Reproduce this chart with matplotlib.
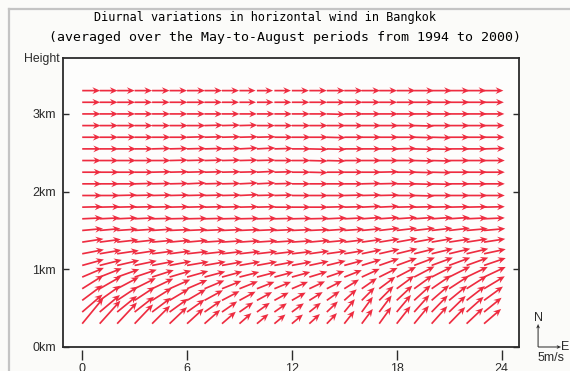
import numpy as np
import matplotlib.pyplot as plt
from matplotlib.lines import Line2D

# local time (hours) and height levels (km) of the wind vectors
hours = list(range(24))
heights = [0.30, 0.45, 0.60, 0.75, 0.90, 1.05, 1.20, 1.35, 1.50, 1.65, 1.80,
           1.95, 2.10, 2.25, 2.40, 2.55, 2.70, 2.85, 3.00, 3.15, 3.30]

# eastward component (m/s), one row per height, bottom to top
u_rows = [
    [4.6, 4.5, 4.3, 4.0, 3.9, 3.8, 3.6, 3.4, 3.0, 2.6, 2.5, 2.4, 2.4, 2.3, 2.2, 2.2, 2.4, 2.6, 3.0, 3.2, 3.4, 3.5, 3.6, 3.7],
    [4.4, 4.4, 4.3, 4.2, 4.1, 4.0, 3.8, 3.6, 3.3, 3.0, 2.8, 2.7, 2.6, 2.5, 2.4, 2.3, 2.4, 2.7, 3.1, 3.3, 3.5, 3.6, 3.7, 3.8],
    [4.4, 4.5, 4.5, 4.4, 4.3, 4.2, 4.1, 4.0, 3.8, 3.5, 3.3, 3.1, 3.0, 2.9, 2.8, 2.7, 2.8, 3.1, 3.4, 3.6, 3.8, 3.9, 4.0, 4.1],
    [4.6, 4.7, 4.7, 4.6, 4.6, 4.5, 4.4, 4.3, 4.2, 4.0, 3.8, 3.6, 3.5, 3.4, 3.3, 3.2, 3.3, 3.5, 3.8, 4.0, 4.2, 4.3, 4.4, 4.5],
    [4.7, 4.8, 4.8, 4.8, 4.7, 4.7, 4.6, 4.5, 4.4, 4.3, 4.2, 4.1, 4.0, 3.9, 3.8, 3.8, 3.9, 4.0, 4.2, 4.4, 4.5, 4.6, 4.6, 4.7],
    [4.7, 4.8, 4.8, 4.8, 4.8, 4.7, 4.7, 4.6, 4.5, 4.5, 4.4, 4.3, 4.3, 4.2, 4.1, 4.1, 4.2, 4.3, 4.4, 4.5, 4.6, 4.6, 4.7, 4.7],
    [4.7, 4.7, 4.7, 4.7, 4.7, 4.6, 4.6, 4.6, 4.5, 4.5, 4.4, 4.4, 4.4, 4.3, 4.3, 4.3, 4.3, 4.4, 4.5, 4.5, 4.6, 4.6, 4.7, 4.7],
    [4.6, 4.6, 4.6, 4.6, 4.6, 4.5, 4.5, 4.5, 4.5, 4.4, 4.4, 4.4, 4.4, 4.4, 4.3, 4.3, 4.4, 4.4, 4.5, 4.5, 4.6, 4.6, 4.6, 4.6],
    [4.5, 4.5, 4.5, 4.5, 4.5, 4.5, 4.4, 4.4, 4.4, 4.4, 4.4, 4.3, 4.3, 4.3, 4.3, 4.3, 4.3, 4.4, 4.4, 4.5, 4.5, 4.5, 4.6, 4.6],
    [4.4, 4.4, 4.4, 4.4, 4.4, 4.4, 4.4, 4.3, 4.3, 4.3, 4.3, 4.3, 4.3, 4.3, 4.3, 4.3, 4.3, 4.3, 4.4, 4.4, 4.5, 4.5, 4.5, 4.5],
    [4.4, 4.4, 4.3, 4.3, 4.3, 4.2, 4.2, 4.2, 4.1, 4.1, 4.1, 4.1, 4.1, 4.1, 4.1, 4.2, 4.2, 4.3, 4.3, 4.4, 4.4, 4.4, 4.5, 4.5],
    [4.3, 4.3, 4.3, 4.2, 4.2, 4.2, 4.2, 4.1, 4.1, 4.1, 4.0, 4.0, 4.1, 4.1, 4.1, 4.2, 4.2, 4.3, 4.3, 4.4, 4.4, 4.4, 4.5, 4.5],
    [4.2, 4.2, 4.2, 4.2, 4.1, 4.1, 4.1, 4.1, 4.0, 4.0, 4.0, 4.0, 4.0, 4.1, 4.1, 4.1, 4.2, 4.2, 4.3, 4.3, 4.4, 4.4, 4.4, 4.5],
    [4.2, 4.2, 4.1, 4.1, 4.1, 4.1, 4.1, 4.0, 4.0, 4.0, 4.0, 4.0, 4.0, 4.0, 4.1, 4.1, 4.2, 4.2, 4.3, 4.3, 4.3, 4.4, 4.4, 4.5],
    [4.1, 4.1, 4.1, 4.1, 4.0, 4.0, 4.0, 4.0, 4.0, 4.0, 4.0, 4.0, 4.0, 4.0, 4.1, 4.1, 4.2, 4.2, 4.2, 4.3, 4.3, 4.4, 4.4, 4.5],
    [4.1, 4.1, 4.1, 4.0, 4.0, 4.0, 4.1, 4.1, 4.1, 4.0, 4.0, 4.0, 4.1, 4.1, 4.2, 4.2, 4.2, 4.3, 4.3, 4.3, 4.4, 4.4, 4.4, 4.5],
    [4.0, 4.0, 4.0, 4.0, 4.0, 4.0, 4.0, 4.0, 4.0, 4.0, 4.0, 4.0, 4.1, 4.1, 4.1, 4.2, 4.2, 4.2, 4.3, 4.3, 4.3, 4.4, 4.4, 4.4],
    [4.0, 4.0, 4.0, 3.9, 3.9, 4.0, 4.0, 4.0, 3.9, 3.9, 3.9, 3.9, 4.0, 4.0, 4.1, 4.1, 4.2, 4.2, 4.2, 4.3, 4.3, 4.4, 4.4, 4.4],
    [4.0, 4.0, 3.9, 3.9, 3.9, 3.9, 3.9, 3.9, 3.8, 3.8, 3.8, 3.8, 3.9, 3.9, 4.0, 4.1, 4.1, 4.1, 4.2, 4.3, 4.3, 4.4, 4.4, 4.4],
    [3.9, 3.9, 3.9, 3.8, 3.8, 3.9, 3.9, 3.8, 3.7, 3.6, 3.6, 3.7, 3.8, 3.9, 4.0, 4.0, 4.0, 3.9, 4.1, 4.3, 4.4, 4.4, 4.4, 4.3],
    [3.9, 3.9, 3.8, 3.8, 3.8, 3.8, 3.9, 3.8, 3.7, 3.5, 3.5, 3.6, 3.7, 3.8, 3.9, 4.0, 4.0, 3.9, 4.1, 4.3, 4.4, 4.4, 4.3, 4.2],
]

# northward component (m/s), same layout
v_rows = [
    [5.6, 5.0, 4.6, 4.2, 3.9, 3.6, 3.3, 3.0, 2.6, 2.3, 2.1, 2.0, 2.0, 2.1, 2.3, 2.8, 3.2, 3.6, 3.8, 3.9, 3.8, 3.6, 3.4, 3.2],
    [3.8, 3.7, 3.5, 3.3, 3.1, 2.9, 2.7, 2.5, 2.3, 2.1, 2.0, 1.9, 1.9, 2.0, 2.3, 2.8, 3.3, 3.6, 3.7, 3.7, 3.6, 3.5, 3.3, 3.1],
    [3.3, 3.2, 3.0, 2.9, 2.7, 2.5, 2.4, 2.2, 2.0, 1.9, 1.8, 1.7, 1.7, 1.8, 2.0, 2.4, 2.8, 3.1, 3.2, 3.3, 3.3, 3.2, 3.1, 3.0],
    [2.9, 2.7, 2.5, 2.3, 2.2, 2.0, 1.9, 1.8, 1.7, 1.6, 1.5, 1.5, 1.5, 1.6, 1.7, 2.0, 2.3, 2.6, 2.8, 2.9, 2.9, 2.8, 2.8, 2.7],
    [2.0, 1.9, 1.7, 1.6, 1.5, 1.4, 1.3, 1.2, 1.2, 1.1, 1.1, 1.1, 1.1, 1.2, 1.3, 1.5, 1.8, 2.0, 2.2, 2.3, 2.3, 2.3, 2.2, 2.2],
    [1.3, 1.2, 1.1, 1.0, 0.9, 0.9, 0.8, 0.8, 0.8, 0.8, 0.8, 0.8, 0.8, 0.9, 1.0, 1.1, 1.3, 1.5, 1.6, 1.7, 1.7, 1.7, 1.7, 1.6],
    [0.9, 0.8, 0.7, 0.7, 0.6, 0.6, 0.5, 0.5, 0.5, 0.5, 0.5, 0.5, 0.5, 0.6, 0.6, 0.7, 0.9, 1.0, 1.1, 1.1, 1.1, 1.1, 1.1, 1.0],
    [0.7, 0.6, 0.5, 0.5, 0.4, 0.4, 0.4, 0.3, 0.3, 0.3, 0.3, 0.3, 0.3, 0.4, 0.4, 0.5, 0.6, 0.7, 0.8, 0.8, 0.8, 0.7, 0.7, 0.7],
    [0.4, 0.4, 0.3, 0.3, 0.3, 0.2, 0.2, 0.2, 0.2, 0.2, 0.2, 0.2, 0.2, 0.2, 0.3, 0.3, 0.4, 0.5, 0.5, 0.5, 0.5, 0.5, 0.4, 0.4],
    [0.2, 0.2, 0.2, 0.2, 0.1, 0.1, 0.1, 0.1, 0.1, 0.1, 0.1, 0.1, 0.1, 0.1, 0.2, 0.2, 0.3, 0.3, 0.3, 0.3, 0.3, 0.3, 0.2, 0.2],
    [0.1, 0.1, 0.1, 0.1, 0.1, 0.1, 0.1, 0.1, 0.1, 0.1, 0.1, 0.0, 0.0, 0.0, 0.1, 0.1, 0.2, 0.2, 0.1, 0.1, 0.1, 0.1, 0.1, 0.1],
    [0.0, 0.0, 0.1, 0.1, 0.1, 0.1, 0.1, 0.1, 0.1, 0.2, 0.1, 0.1, 0.0, 0.0, 0.0, 0.1, 0.1, 0.1, 0.0, -0.1, 0.0, 0.0, 0.0, 0.0],
    [0.0, 0.0, 0.0, 0.1, 0.1, 0.1, 0.2, 0.1, 0.1, 0.2, 0.2, 0.1, 0.0, 0.0, 0.0, 0.0, 0.1, 0.1, 0.0, -0.1, -0.1, 0.0, 0.0, 0.0],
    [0.0, 0.0, 0.0, 0.0, 0.1, 0.1, 0.1, 0.1, 0.1, 0.1, 0.2, 0.1, 0.0, -0.1, 0.0, 0.0, 0.0, 0.1, 0.0, -0.1, -0.1, 0.0, 0.0, 0.0],
    [0.0, 0.0, 0.0, 0.0, 0.0, 0.1, 0.1, 0.1, 0.1, 0.1, 0.1, 0.0, 0.0, -0.1, -0.1, 0.0, 0.0, 0.0, 0.0, -0.1, -0.1, 0.0, 0.0, 0.0],
    [0.0, 0.0, 0.0, 0.0, 0.1, 0.1, 0.1, 0.1, 0.1, 0.2, 0.2, 0.1, 0.0, -0.1, -0.1, 0.0, 0.0, 0.0, 0.1, -0.1, -0.1, 0.0, 0.0, 0.1],
    [0.0, 0.0, 0.0, 0.0, 0.0, 0.0, 0.1, 0.1, 0.1, 0.1, 0.1, 0.0, 0.0, 0.0, -0.1, 0.0, 0.0, 0.0, 0.0, -0.1, -0.1, 0.0, 0.0, 0.0],
    [0.0, 0.0, 0.0, 0.0, 0.0, 0.0, 0.0, 0.1, 0.1, 0.1, 0.0, 0.0, 0.0, 0.0, 0.0, 0.0, 0.0, 0.0, 0.0, -0.1, 0.0, 0.0, 0.0, 0.0],
    [0.0, 0.0, 0.0, 0.0, 0.0, 0.0, 0.0, 0.0, 0.0, 0.0, 0.0, 0.0, 0.0, 0.0, -0.1, 0.0, 0.0, 0.0, 0.0, 0.0, 0.0, 0.0, 0.0, 0.0],
    [0.0, 0.0, 0.0, 0.0, 0.0, 0.0, 0.0, 0.0, 0.0, 0.0, 0.0, 0.0, 0.0, 0.0, 0.0, 0.0, 0.0, 0.0, 0.0, 0.0, 0.0, 0.0, 0.0, 0.0],
    [0.0, 0.0, 0.0, 0.0, 0.0, 0.0, 0.0, 0.0, 0.0, 0.0, 0.0, 0.0, 0.0, 0.0, 0.0, 0.0, 0.0, 0.0, 0.0, 0.0, 0.0, 0.0, 0.0, 0.0],
]

xticks = [0, 6, 12, 18, 24]
yticks = [0, 1, 2, 3]
ytick_labels = ['0km', '1km', '2km', '3km']
ref_speed = 5  # m/s, legend arrow

title1 = 'Diurnal variations in horizontal wind in Bangkok'
title2 = '(averaged over the May-to-August periods from 1994 to 2000)'

arrow_red = '#ee2c40'
ink = '#2b2b2b'
qscale = 21.7  # m/s per inch
qstyle = dict(scale_units='inches', scale=qscale, units='inches', width=0.017,
              headwidth=4.0, headlength=4.6, headaxislength=3.4, pivot='tail')

fig = plt.figure(figsize=(5.70, 3.71), dpi=100, facecolor='#fbfbf9')
ax = fig.add_axes([0.1105, 0.0647, 0.8, 0.779])
ax.set_facecolor('#fdfdfc')

X, Y = np.meshgrid(hours, heights)
ax.quiver(X, Y, np.array(u_rows), np.array(v_rows), color=arrow_red, **qstyle)

ax.set_xlim(-1.1, 25.0)
ax.set_ylim(0, 3.72)
ax.set_yticks(yticks)
ax.set_yticklabels(ytick_labels)
ax.yaxis.set_ticks_position('both')
ax.tick_params(axis='y', direction='in', length=4, width=1.0, color=ink,
               labelsize=9, labelcolor=ink, pad=5)
for lab in ax.get_yticklabels():
    lab.set_family('Liberation Sans')

# x ticks sit a little below the frame
ax.set_xticks([])
sec = ax.secondary_xaxis(-0.011)
sec.set_xticks(xticks)
sec.spines['bottom'].set_visible(False)
sec.tick_params(direction='out', length=7, width=1.0, color=ink,
                labelsize=9, labelcolor=ink, pad=2)
for lab in sec.get_xticklabels():
    lab.set_family('Liberation Sans')

for s in ax.spines.values():
    s.set_color(ink)
    s.set_linewidth(1.3)

fig.text(0.465, 0.954, title1, family='DejaVu Sans Mono', fontsize=8.6,
         ha='center', va='center', color='#000000')
fig.text(0.5, 0.900, title2, family='DejaVu Sans Mono', fontsize=9.5,
         ha='center', va='center', color='#000000')
fig.text(0.105, 0.841, 'Height', family='Liberation Sans', fontsize=8.8,
         ha='right', va='center', color=ink)

# compass / scale legend
ax.quiver([0.944], [0.0647], [0], [ref_speed], transform=fig.transFigure,
          clip_on=False, color=ink, **dict(qstyle, width=0.01))
ax.quiver([0.944], [0.0647], [ref_speed], [0], transform=fig.transFigure,
          clip_on=False, color=ink, **dict(qstyle, width=0.01))
fig.text(0.944, 0.143, 'N', family='Liberation Sans', fontsize=9,
         ha='center', va='center', color=ink)
fig.text(0.992, 0.0647, 'E', family='Liberation Sans', fontsize=9,
         ha='center', va='center', color=ink)
fig.text(0.966, 0.036, '5m/s', family='Liberation Sans', fontsize=9,
         ha='center', va='center', color=ink)

# scan frame at top and left
fig.add_artist(Line2D([0.016, 1.0], [0.975, 0.975], transform=fig.transFigure,
                      color='#c4c4c4', lw=1.6))
fig.add_artist(Line2D([0.016, 0.016], [0.0, 0.975], transform=fig.transFigure,
                      color='#c4c4c4', lw=1.6))

fig.savefig('out.png', dpi=100, facecolor=fig.get_facecolor())
